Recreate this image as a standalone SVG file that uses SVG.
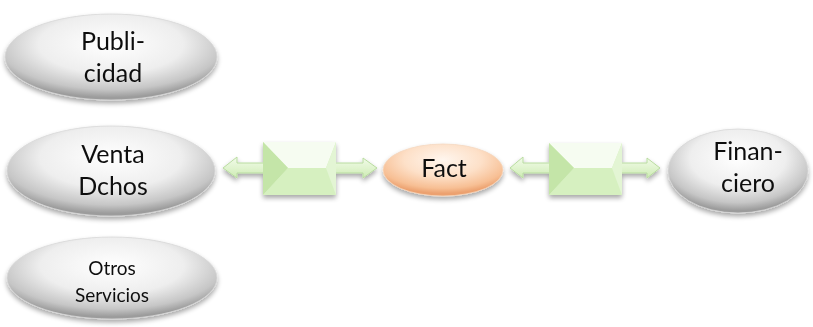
<svg xmlns="http://www.w3.org/2000/svg" width="813" height="327" viewBox="0 0 813 327">
<style>
.lbl{font-family:Lato,"Liberation Sans",sans-serif;font-size:25px;fill:#111;text-anchor:middle}
.sm{font-size:19px}
.gray{fill:url(#gGray);stroke:#d8d8d8;stroke-width:0.8}
.peach{fill:url(#gPeach);stroke:#f5d8c0;stroke-width:0.8}
.arr{fill:url(#gArr);stroke:#b9dca0;stroke-width:1}
.fTop{fill:#f6fcf1}
.fLeft{fill:#c4e5a8}
.fBot{fill:#d6f0c0}
.fRight{fill:#e3f5d4}
</style>
<defs>
<radialGradient id="gGray" cx="0.5" cy="0.35" r="0.62">
<stop offset="0" stop-color="#ffffff"/>
<stop offset="0.55" stop-color="#eeeeee"/>
<stop offset="0.85" stop-color="#c6c6c6"/>
<stop offset="1" stop-color="#9c9c9c"/>
</radialGradient>
<radialGradient id="gPeach" cx="0.5" cy="0.3" r="0.65">
<stop offset="0" stop-color="#fff6ee"/>
<stop offset="0.5" stop-color="#fde0c8"/>
<stop offset="0.85" stop-color="#f7bf94"/>
<stop offset="1" stop-color="#eca16f"/>
</radialGradient>
<linearGradient id="gArr" x1="0" y1="0" x2="0" y2="1">
<stop offset="0" stop-color="#f2fbea"/>
<stop offset="0.5" stop-color="#e1f4d0"/>
<stop offset="1" stop-color="#cdebb3"/>
</linearGradient>
<filter id="sh" x="-20%" y="-20%" width="140%" height="150%">
<feGaussianBlur in="SourceAlpha" stdDeviation="2.5"/>
<feOffset dx="0" dy="3" result="b"/>
<feComponentTransfer><feFuncA type="linear" slope="0.35"/></feComponentTransfer>
<feMerge><feMergeNode/><feMergeNode in="SourceGraphic"/></feMerge>
</filter>
</defs>

<g id="connectors">
<g id="conn1" filter="url(#sh)">
<polygon class="arr" points="223,168 237,157 237,163 363,163 363,158 377,168 363,178 363,173 237,173 237,178"/>
<rect x="263" y="142" width="73" height="53" class="fBot"/>
<polygon class="fTop" points="263,142 336,142 326,168 288,168"/>
<polygon class="fLeft" points="263,142 288,168 263,195"/>
<polygon class="fBot" points="263,195 288,168 326,168 336,195"/>
<polygon class="fRight" points="336,142 336,195 326,168"/>
</g>
<g id="conn2" filter="url(#sh)">
<polygon class="arr" points="510,168 523,157 523,163 647,163 647,158 660,168 647,178 647,173 523,173 523,178"/>
<rect x="549" y="143" width="73" height="52" class="fBot"/>
<polygon class="fTop" points="549,143 622,143 612,168 574,168"/>
<polygon class="fLeft" points="549,143 574,168 549,195"/>
<polygon class="fBot" points="549,195 574,168 612,168 622,195"/>
<polygon class="fRight" points="622,143 622,195 612,168"/>
</g>
</g>

<g id="publicidad" filter="url(#sh)">
<ellipse class="gray" cx="111" cy="57" rx="106" ry="43"/>
<text class="lbl" x="113" y="50">Publi-</text>
<text class="lbl" x="113" y="82">cidad</text>
</g>
<g id="venta" filter="url(#sh)">
<ellipse class="gray" cx="111" cy="171" rx="104" ry="45"/>
<text class="lbl" x="113" y="163">Venta</text>
<text class="lbl" x="113" y="195">Dchos</text>
</g>
<g id="otros" filter="url(#sh)">
<ellipse class="gray" cx="112" cy="278" rx="105" ry="41"/>
<text class="lbl sm" x="112" y="275">Otros</text>
<text class="lbl sm" x="112" y="302">Servicios</text>
</g>
<g id="fact" filter="url(#sh)">
<ellipse class="peach" cx="443" cy="170" rx="60" ry="26"/>
<text class="lbl" x="444" y="177">Fact</text>
</g>
<g id="financiero" filter="url(#sh)">
<ellipse class="gray" cx="738" cy="171" rx="70" ry="42"/>
<text class="lbl" x="748" y="160">Finan-</text>
<text class="lbl" x="748" y="192">ciero</text>
</g>
</svg>
